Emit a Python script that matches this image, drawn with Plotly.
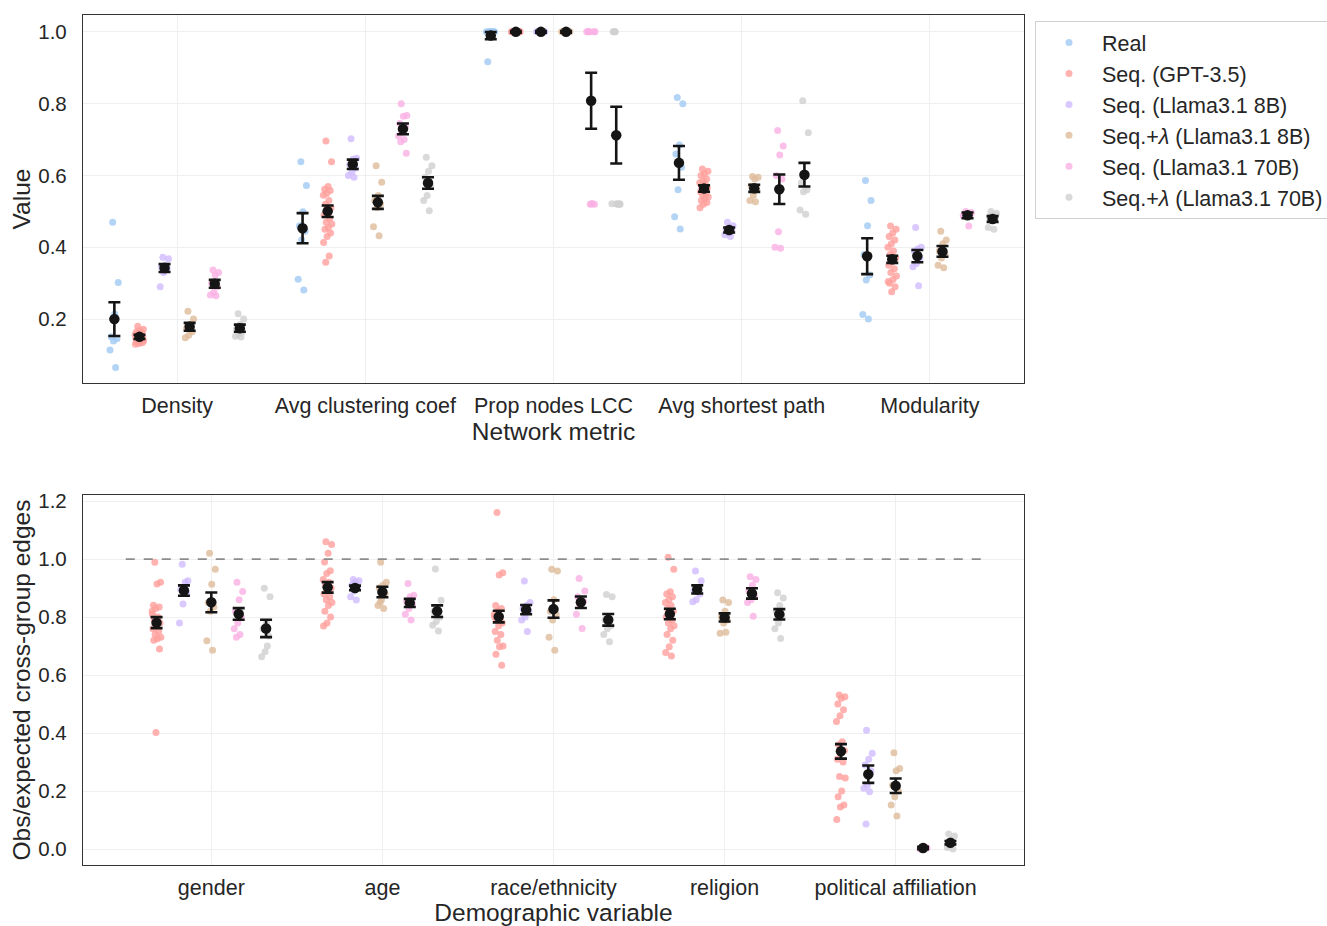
import plotly.graph_objects as go

# ---------------- data ----------------
HUES = ["Real", "Seq. (GPT-3.5)", "Seq. (Llama3.1 8B)", "Seq.+<i>λ</i> (Llama3.1 8B)",
        "Seq. (Llama3.1 70B)", "Seq.+<i>λ</i> (Llama3.1 70B)"]
COLORS = ["#a1c9f4", "#ff9f9b", "#d0bbff", "#debb9b", "#fab0e4", "#cfcfcf"]

METRICS = ["Density", "Avg clustering coef", "Prop nodes LCC", "Avg shortest path", "Modularity"]
DEMOGRAPHICS = ["gender", "age", "race/ethnicity", "religion", "political affiliation"]

# network metrics: one list per metric, for each network source
net_real = [
    [0.470, 0.302, 0.214, 0.151, 0.145, 0.139, 0.114, 0.065],
    [0.638, 0.572, 0.499, 0.460, 0.445, 0.420, 0.311, 0.281],
    [1.0, 1.0, 1.0, 0.917, 1.0, 1.0, 1.0, 1.0],
    [0.817, 0.800, 0.685, 0.660, 0.623, 0.560, 0.485, 0.451],
    [0.586, 0.530, 0.460, 0.380, 0.323, 0.309, 0.213, 0.200],
]
net_gpt35 = [
    [0.180, 0.172, 0.168, 0.165, 0.162, 0.160, 0.157, 0.155, 0.152, 0.150,
     0.148, 0.146, 0.144, 0.142, 0.140, 0.138, 0.136, 0.134, 0.132, 0.130],
    [0.696, 0.638, 0.569, 0.562, 0.558, 0.550, 0.545, 0.530, 0.520, 0.510, 0.500,
     0.490, 0.480, 0.470, 0.465, 0.455, 0.450, 0.440, 0.430, 0.413, 0.376, 0.358],
    [1.0] * 20,
    [0.618, 0.612, 0.605, 0.600, 0.590, 0.585, 0.580, 0.575, 0.570, 0.565,
     0.560, 0.555, 0.550, 0.545, 0.540, 0.535, 0.530, 0.525, 0.520, 0.510],
    [0.459, 0.450, 0.440, 0.430, 0.420, 0.410, 0.400, 0.390, 0.380, 0.370,
     0.360, 0.350, 0.340, 0.330, 0.320, 0.310, 0.300, 0.290, 0.276, 0.305],
]
net_llama8 = [
    [0.372, 0.368, 0.350, 0.345, 0.340, 0.330, 0.290],
    [0.702, 0.648, 0.645, 0.630, 0.620, 0.610, 0.600, 0.595],
    [1.0] * 8,
    [0.470, 0.460, 0.455, 0.450, 0.445, 0.440, 0.435, 0.430],
    [0.455, 0.400, 0.395, 0.390, 0.370, 0.355, 0.346, 0.293],
]
net_llama8_lam = [
    [0.222, 0.200, 0.185, 0.175, 0.165, 0.155, 0.148],
    [0.627, 0.581, 0.544, 0.530, 0.520, 0.510, 0.457, 0.432],
    [1.0] * 8,
    [0.597, 0.595, 0.590, 0.570, 0.560, 0.545, 0.530, 0.527],
    [0.445, 0.420, 0.410, 0.390, 0.380, 0.370, 0.350, 0.343],
]
net_llama70 = [
    [0.337, 0.330, 0.322, 0.300, 0.290, 0.275, 0.267, 0.265],
    [0.800, 0.767, 0.765, 0.745, 0.735, 0.720, 0.710, 0.700, 0.694, 0.662],
    [1.0, 1.0, 0.521, 1.0, 1.0, 0.520, 1.0, 0.521, 1.0, 0.520],
    [0.725, 0.682, 0.657, 0.600, 0.590, 0.443, 0.400, 0.397],
    [0.500, 0.497, 0.495, 0.493, 0.490, 0.490, 0.488, 0.459],
]
net_llama70_lam = [
    [0.215, 0.200, 0.185, 0.172, 0.165, 0.158, 0.152, 0.150],
    [0.651, 0.627, 0.612, 0.595, 0.570, 0.544, 0.530, 0.502],
    [1.0, 0.520, 0.521, 1.0, 0.520, 1.0, 0.521, 0.520, 1.0, 0.521],
    [0.808, 0.719, 0.600, 0.580, 0.560, 0.555, 0.504, 0.492],
    [0.500, 0.495, 0.490, 0.485, 0.480, 0.475, 0.455, 0.450],
]
# 95% CI half-widths of the per-source means
net_ci = [
    [0.047, 0.042, 0.010, 0.047, 0.050],
    [0.006, 0.016, 0.002, 0.009, 0.010],
    [0.011, 0.013, 0.002, 0.007, 0.017],
    [0.011, 0.018, 0.002, 0.010, 0.015],
    [0.011, 0.015, 0.078, 0.041, 0.008],
    [0.010, 0.016, 0.079, 0.033, 0.008],
]

# homophily ratios: one list per demographic variable, for each generated source
homo_gpt35 = [
    [0.989, 0.920, 0.914, 0.841, 0.835, 0.830, 0.820, 0.800, 0.790, 0.780,
     0.770, 0.760, 0.750, 0.740, 0.730, 0.725, 0.720, 0.690, 0.402, 0.810],
    [1.060, 1.050, 1.020, 0.990, 0.960, 0.950, 0.930, 0.920, 0.910, 0.900,
     0.890, 0.880, 0.870, 0.860, 0.850, 0.840, 0.820, 0.800, 0.780, 0.769],
    [1.161, 0.953, 0.945, 0.840, 0.830, 0.820, 0.810, 0.800, 0.790, 0.780,
     0.770, 0.750, 0.740, 0.720, 0.700, 0.698, 0.672, 0.634, 0.820, 0.800],
    [1.006, 0.965, 0.887, 0.880, 0.870, 0.860, 0.850, 0.840, 0.830, 0.820, 0.810,
     0.800, 0.790, 0.780, 0.770, 0.760, 0.740, 0.720, 0.698, 0.678, 0.666],
    [0.531, 0.525, 0.520, 0.500, 0.480, 0.460, 0.440, 0.370, 0.360, 0.340,
     0.330, 0.310, 0.300, 0.250, 0.245, 0.200, 0.180, 0.152, 0.145, 0.102],
]
homo_llama8 = [
    [0.982, 0.925, 0.900, 0.895, 0.885, 0.845, 0.780, 0.920],
    [0.930, 0.925, 0.920, 0.910, 0.900, 0.890, 0.870, 0.859],
    [0.924, 0.850, 0.840, 0.830, 0.820, 0.800, 0.790, 0.750],
    [0.959, 0.925, 0.900, 0.890, 0.880, 0.860, 0.853],
    [0.410, 0.330, 0.310, 0.290, 0.270, 0.220, 0.210, 0.198, 0.086],
]
homo_llama8_lam = [
    [1.020, 0.965, 0.913, 0.850, 0.835, 0.820, 0.718, 0.686],
    [0.989, 0.920, 0.910, 0.900, 0.880, 0.860, 0.840, 0.830, 0.850],
    [0.965, 0.959, 0.860, 0.820, 0.810, 0.790, 0.730, 0.686],
    [0.859, 0.850, 0.820, 0.800, 0.790, 0.780, 0.744, 0.748],
    [0.332, 0.278, 0.270, 0.220, 0.200, 0.180, 0.152, 0.114],
]
homo_llama70 = [
    [0.920, 0.888, 0.860, 0.820, 0.800, 0.780, 0.760, 0.740, 0.730],
    [0.916, 0.875, 0.870, 0.855, 0.845, 0.830, 0.810, 0.790],
    [0.933, 0.890, 0.850, 0.870, 0.855, 0.840, 0.810, 0.761],
    [0.939, 0.930, 0.910, 0.890, 0.870, 0.860, 0.850, 0.803],
    [0.000, 0.004, 0.010, 0.000, 0.006, 0.002],
]
homo_llama70_lam = [
    [0.899, 0.870, 0.780, 0.760, 0.735, 0.680, 0.663, 0.700],
    [0.966, 0.858, 0.810, 0.820, 0.800, 0.785, 0.772, 0.752],
    [0.878, 0.870, 0.800, 0.790, 0.770, 0.760, 0.740, 0.715],
    [0.884, 0.866, 0.840, 0.820, 0.800, 0.780, 0.760, 0.726],
    [0.052, 0.045, 0.020, 0.005, 0.000, 0.010],
]
homo_ci = [
    [0.019, 0.018, 0.020, 0.018, 0.025],
    [0.018, 0.008, 0.016, 0.014, 0.030],
    [0.034, 0.018, 0.030, 0.014, 0.025],
    [0.020, 0.014, 0.020, 0.018, 0.004],
    [0.030, 0.020, 0.020, 0.018, 0.006],
]

# ---------------- drawing ----------------
FONT = "Liberation Sans, Arial, Helvetica, sans-serif"
MEAN_COLOR = "#151515"

fig = go.Figure()


def jitter(i, half):
    # deterministic low-discrepancy spread of points across the strip
    return half * 2 * (((i * 0.6180339887) + 0.31) % 1 - 0.5)


def add_panel(series, hue_idx, ci, xaxis, yaxis, half_jit, show_legend):
    n_hue = len(series)
    step = 0.8 / n_hue
    for k, (vals_per_cat, h) in enumerate(zip(series, hue_idx)):
        xs, ys = [], []
        for c, vals in enumerate(vals_per_cat):
            off = (k - (n_hue - 1) / 2) * step
            for i, v in enumerate(vals):
                xs.append(c + off + jitter(i, half_jit))
                ys.append(v)
        fig.add_trace(go.Scatter(
            x=xs, y=ys, mode="markers", name=HUES[h], xaxis=xaxis, yaxis=yaxis,
            marker=dict(color=COLORS[h], size=7, opacity=0.8, line=dict(width=0)),
            showlegend=show_legend, hoverinfo="y"))
    for k, vals_per_cat in enumerate(series):
        off = (k - (n_hue - 1) / 2) * step
        mx = [c + off for c in range(len(vals_per_cat))]
        my = [sum(v) / len(v) for v in vals_per_cat]
        fig.add_trace(go.Scatter(
            x=mx, y=my, mode="markers", xaxis=xaxis, yaxis=yaxis, showlegend=False,
            marker=dict(color=MEAN_COLOR, size=10.5),
            error_y=dict(type="data", array=ci[k], symmetric=True,
                         color=MEAN_COLOR, thickness=2.6, width=6),
            hoverinfo="y"))


add_panel([net_real, net_gpt35, net_llama8, net_llama8_lam, net_llama70, net_llama70_lam],
          [0, 1, 2, 3, 4, 5], net_ci, "x", "y", 0.024, True)
add_panel([homo_gpt35, homo_llama8, homo_llama8_lam, homo_llama70, homo_llama70_lam],
          [1, 2, 3, 4, 5], homo_ci, "x2", "y2", 0.027, False)

# parity reference line for the ratio panel
fig.add_shape(type="line", xref="x2", yref="y2", x0=-0.5, x1=4.5, y0=1.0, y1=1.0,
              line=dict(color="#8c8c8c", width=1.6, dash="dash"), layer="above")

W, H = 1327, 926
axis_common = dict(showline=True, mirror=True, linecolor="#333333", linewidth=1.3,
                   showgrid=True, gridcolor="#efefef", gridwidth=1, zeroline=False,
                   ticks="", automargin=False)
x_tickfont = dict(family=FONT, size=21.5, color="#262626")
y_tickfont = dict(family=FONT, size=20.5, color="#262626")
title_font = dict(family=FONT, size=24.5, color="#262626")

fig.update_layout(
    width=W, height=H, margin=dict(l=0, r=0, t=0, b=0, autoexpand=False),
    paper_bgcolor="white", plot_bgcolor="white",
    font=dict(family=FONT, color="#262626"),
    xaxis=dict(domain=[83 / W, 1024 / W], range=[-0.5, 4.5], tickvals=list(range(5)),
               ticktext=METRICS, anchor="y", ticklabelstandoff=3, tickfont=x_tickfont,
               title=dict(text="Network metric", font=title_font, standoff=2), **axis_common),
    yaxis=dict(domain=[1 - 383 / H, 1 - 15 / H], range=[0.022, 1.047],
               tickvals=[0.2, 0.4, 0.6, 0.8, 1.0], ticktext=["0.2", "0.4", "0.6", "0.8", "1.0"],
               anchor="x", ticklabelstandoff=11, tickfont=y_tickfont,
               title=dict(text="Value", font=title_font, standoff=0), **axis_common),
    xaxis2=dict(domain=[83 / W, 1024 / W], range=[-0.75, 4.75], tickvals=list(range(5)),
                ticktext=DEMOGRAPHICS, anchor="y2", ticklabelstandoff=3, tickfont=x_tickfont,
                title=dict(text="Demographic variable", font=title_font, standoff=2), **axis_common),
    yaxis2=dict(domain=[1 - 865 / H, 1 - 495 / H], range=[-0.055, 1.221],
                tickvals=[0.0, 0.2, 0.4, 0.6, 0.8, 1.0, 1.2],
                ticktext=["0.0", "0.2", "0.4", "0.6", "0.8", "1.0", "1.2"], anchor="x2",
                ticklabelstandoff=11, tickfont=y_tickfont,
                title=dict(text="Obs/expected cross-group edges", font=title_font, standoff=0),
                **axis_common),
    legend=dict(x=1035 / W, y=1 - 21 / H, xanchor="left", yanchor="top",
                bgcolor="white", bordercolor="#d0d0d0", borderwidth=1,
                font=dict(family=FONT, size=21.5, color="#262626"),
                tracegroupgap=0, itemwidth=56),
    showlegend=True,
)

fig.write_html("out.html")
